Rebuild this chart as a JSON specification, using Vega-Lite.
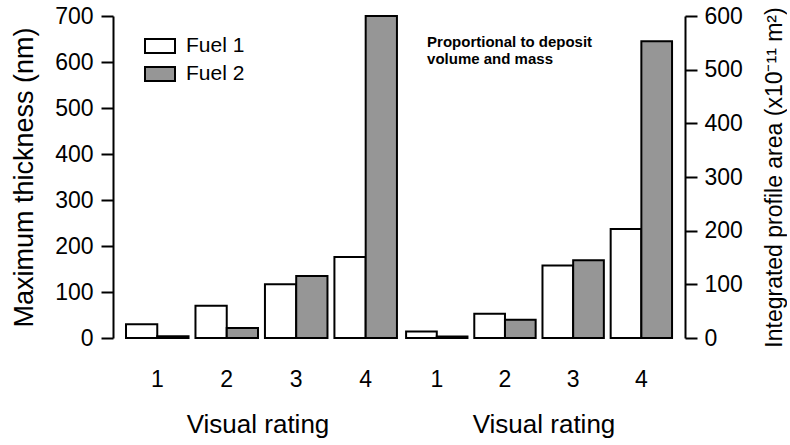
{
  "$schema": "https://vega.github.io/schema/vega-lite/v6.json",
  "background": "white",
  "padding": {"left": 10, "top": 5, "right": 0, "bottom": 2},
  "config": {
    "font": "Liberation Sans",
    "view": {"stroke": null},
    "concat": {"spacing": 0},
    "axis": {
      "domainColor": "black",
      "domainWidth": 2,
      "tickColor": "black",
      "tickWidth": 2,
      "tickSize": 12,
      "labelColor": "black",
      "titleColor": "black",
      "labelFont": "Liberation Sans",
      "titleFont": "Liberation Sans",
      "labelFontSize": 23,
      "titleFontWeight": "normal",
      "grid": false
    },
    "axisX": {
      "domain": false,
      "ticks": false,
      "labelAngle": 0,
      "labelPadding": 30,
      "titleFontSize": 26,
      "titlePadding": 20
    }
  },
  "datasets": {
    "thickness": [
      {"rating": "1", "fuel": "Fuel 1", "value": 30},
      {"rating": "1", "fuel": "Fuel 2", "value": 4},
      {"rating": "2", "fuel": "Fuel 1", "value": 70},
      {"rating": "2", "fuel": "Fuel 2", "value": 22},
      {"rating": "3", "fuel": "Fuel 1", "value": 117},
      {"rating": "3", "fuel": "Fuel 2", "value": 135},
      {"rating": "4", "fuel": "Fuel 1", "value": 176},
      {"rating": "4", "fuel": "Fuel 2", "value": 700}
    ],
    "area": [
      {"rating": "1", "fuel": "Fuel 1", "value": 12},
      {"rating": "1", "fuel": "Fuel 2", "value": 3},
      {"rating": "2", "fuel": "Fuel 1", "value": 45},
      {"rating": "2", "fuel": "Fuel 2", "value": 34},
      {"rating": "3", "fuel": "Fuel 1", "value": 135},
      {"rating": "3", "fuel": "Fuel 2", "value": 145},
      {"rating": "4", "fuel": "Fuel 1", "value": 203},
      {"rating": "4", "fuel": "Fuel 2", "value": 553}
    ]
  },
  "hconcat": [
    {
      "width": 289,
      "height": 322,
      "data": {"name": "thickness"},
      "mark": {"type": "bar", "stroke": "black", "strokeWidth": 2},
      "encoding": {
        "x": {
          "field": "rating",
          "type": "ordinal",
          "scale": {"paddingInner": 0.1, "paddingOuter": 0.13, "align": 0.72},
          "axis": {"title": "Visual rating"}
        },
        "xOffset": {
          "field": "fuel",
          "type": "nominal",
          "scale": {"paddingInner": 0, "paddingOuter": 0}
        },
        "y": {
          "field": "value",
          "type": "quantitative",
          "scale": {"domain": [0, 700], "nice": false},
          "axis": {
            "title": "Maximum thickness (nm)",
            "titleFontSize": 27,
            "titlePadding": 16,
            "labelPadding": 8,
            "values": [0, 100, 200, 300, 400, 500, 600, 700]
          }
        },
        "fill": {
          "field": "fuel",
          "type": "nominal",
          "scale": {"domain": ["Fuel 1", "Fuel 2"], "range": ["white", "#969696"]},
          "legend": {
            "title": null,
            "orient": "none",
            "legendX": 31,
            "legendY": 14,
            "padding": 0,
            "symbolType": "M-1,-0.47H1V0.47H-1Z",
            "symbolSize": 900,
            "symbolStrokeColor": "black",
            "symbolStrokeWidth": 2,
            "symbolOpacity": 1,
            "labelFontSize": 21,
            "labelColor": "black",
            "labelOffset": 10,
            "rowPadding": -3
          }
        }
      }
    },
    {
      "width": 283,
      "height": 322,
      "layer": [
        {
          "data": {"name": "area"},
          "mark": {"type": "bar", "stroke": "black", "strokeWidth": 2},
          "encoding": {
            "x": {
              "field": "rating",
              "type": "ordinal",
              "scale": {"paddingInner": 0.1, "paddingOuter": 0.125, "align": 0.24},
              "axis": {"title": "Visual rating"}
            },
            "xOffset": {
              "field": "fuel",
              "type": "nominal",
              "scale": {"paddingInner": 0, "paddingOuter": 0}
            },
            "y": {
              "field": "value",
              "type": "quantitative",
              "scale": {"domain": [0, 600], "nice": false},
              "axis": {
                "orient": "right",
                "title": "Integrated profile area (x10⁻¹¹ m²)",
                "titleFontSize": 23,
                "titleAngle": 270,
                "titleBaseline": "top",
                "titlePadding": 21,
                "labelPadding": 7,
                "values": [0, 100, 200, 300, 400, 500, 600]
              }
            },
            "fill": {
              "field": "fuel",
              "type": "nominal",
              "scale": {"domain": ["Fuel 1", "Fuel 2"], "range": ["white", "#969696"]},
              "legend": null
            }
          }
        },
        {
          "data": {"values": [{}]},
          "mark": {
            "type": "text",
            "text": ["Proportional to deposit", "volume and mass"],
            "align": "left",
            "baseline": "top",
            "fontSize": 15,
            "fontWeight": "bold",
            "lineHeight": 17,
            "dx": 21,
            "color": "black"
          },
          "encoding": {
            "x": {"datum": "1", "type": "ordinal", "bandPosition": 0},
            "y": {"datum": 564, "type": "quantitative"}
          }
        }
      ],
      "resolve": {"scale": {"fill": "independent"}}
    }
  ],
  "resolve": {"scale": {"x": "independent", "y": "independent", "fill": "independent", "xOffset": "independent"}}
}
